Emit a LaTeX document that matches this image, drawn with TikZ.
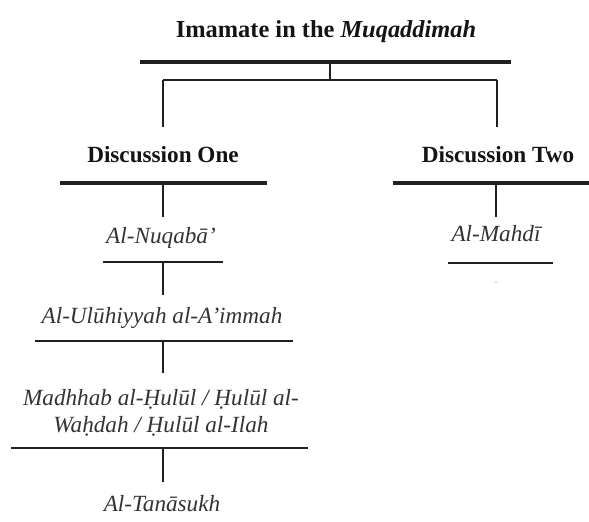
\documentclass[tikz,border=0pt]{standalone}
\usepackage{fontspec}
\setmainfont{Liberation Serif}
\begin{document}
\begin{tikzpicture}[x=1pt,y=-1pt,
  ink/.style={draw=black!88},
  heavybar/.style={ink,line width=4pt},
  mediumbar/.style={ink,line width=2pt},
  lightbar/.style={ink,line width=1.3pt},
  stem/.style={ink,line width=1.3pt},
  head/.style={anchor=base,inner sep=0pt,font=\fontsize{23.2}{27}\selectfont\bfseries,text=black!92},
  term/.style={anchor=base,inner sep=0pt,align=center,font=\fontsize{23.2}{27}\selectfont\itshape,text=black!80}]
\useasboundingbox (0,0) rectangle (589,522);

% headings and terms
\node[head,font=\fontsize{24.4}{28}\selectfont\bfseries] (title) at (326,37) {Imamate in the \textit{Muqaddimah}};
\node[head] (d1) at (163,162) {Discussion One};
\node[head] (d2) at (498,162) {Discussion Two};
\node[term] (nuq) at (161,243) {Al-Nuqabā’};
\node[term] (mah) at (496,241) {Al-Mahdī};
\node[term] (ulu) at (162,323) {Al-Ulūhiyyah al-A’immah};
\node[term,anchor=north] (mad) at (161,389) {Madhhab al-\d{H}ulūl / \d{H}ulūl al-\\Wa\d{h}dah / \d{H}ulūl al-Ilah};
\node[term] (tan) at (162,511) {Al-Tanāsukh};

% bar ends
\coordinate (t0l) at (140,62);   \coordinate (t0r) at (511,62);   \coordinate (t0m) at (330,62);
\coordinate (sp)  at (330,80);   \coordinate (spl) at (163,80);   \coordinate (spr) at (497,80);
\coordinate (d1a) at (163,127);  \coordinate (d2a) at (497,127);
\coordinate (b1l) at (60,182.5); \coordinate (b1r) at (267,182.5); \coordinate (b1m) at (163,182.5);
\coordinate (b2l) at (393,182.5);\coordinate (b2r) at (589,182.5); \coordinate (b2m) at (496,182.5);
\coordinate (c1) at (163,217);   \coordinate (c2) at (496,217);
\coordinate (n1l) at (103,262);  \coordinate (n1r) at (223,262);  \coordinate (n1m) at (163,262);
\coordinate (m1l) at (448,263);  \coordinate (m1r) at (553,263);
\coordinate (c3) at (163,295);
\coordinate (u1l) at (35,341);   \coordinate (u1r) at (293,341);  \coordinate (u1m) at (163,341);
\coordinate (c4) at (163,373);
\coordinate (h1l) at (11,448);   \coordinate (h1r) at (308,448);  \coordinate (h1m) at (163,448);
\coordinate (c5) at (163,482);

% bars
\draw[heavybar] (t0l) -- (t0r);
\draw[heavybar] (b1l) -- (b1r);
\draw[heavybar] (b2l) -- (b2r);
\draw[lightbar] (n1l) -- (n1r);
\draw[lightbar] (m1l) -- (m1r);
\draw[lightbar] (u1l) -- (u1r);
\draw[mediumbar] (h1l) -- (h1r);

% connectors
\draw[ink,line width=2.6pt] (t0m) -- (sp);
\draw[lightbar] (spl) -- (spr);
\draw[stem] (spl) -- (d1a);
\draw[stem] (spr) -- (d2a);
\draw[stem] (b1m) -- (c1);
\draw[stem] (b2m) -- (c2);
\draw[stem] (n1m) -- (c3);
\draw[stem] (u1m) -- (c4);
\draw[stem] (h1m) -- (c5);

% stray mark under the right branch
\fill[black!55] (496,282) circle (0.6);
\end{tikzpicture}
\end{document}
